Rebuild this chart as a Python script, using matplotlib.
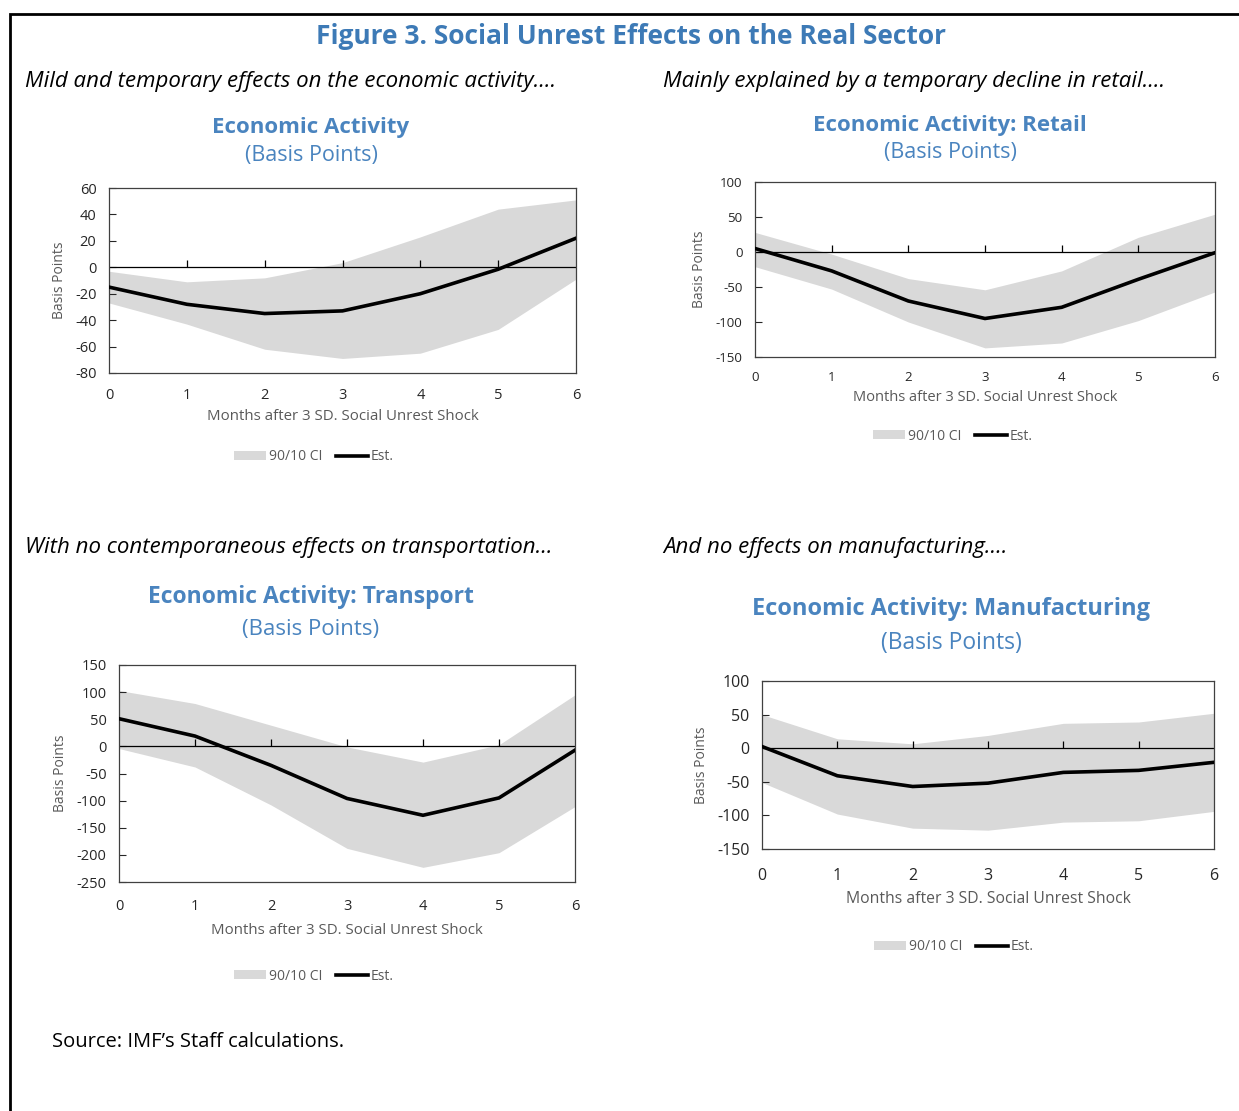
import matplotlib.pyplot as plt
from matplotlib.patches import Rectangle

W, H = 1239, 1111

plt.rcParams['font.family'] = ['Open Sans', 'DejaVu Sans']
plt.rcParams['axes.unicode_minus'] = False

# months after the shock
months = [0, 1, 2, 3, 4, 5, 6]

# Economic activity
act_est = [-15, -28, -35, -33, -20, -1.5, 22]
act_hi = [-3, -11, -8, 3.5, 23, 44, 51]
act_lo = [-27, -43, -62, -69, -65, -47, -9]

# Retail
ret_est = [5, -27, -70, -95, -79, -39, -1]
ret_hi = [28, -3, -38, -54, -27, 21, 54]
ret_lo = [-21, -53, -100, -137, -130, -98, -57]

# Transport
tra_est = [51, 19, -35, -96, -127, -95, -7]
tra_hi = [103, 79, 39, -1, -29, 3, 95]
tra_lo = [-4, -38, -108, -188, -223, -196, -111]

# Manufacturing
man_est = [2.5, -41, -57, -52, -36, -33, -21]
man_hi = [50, 14, 6.5, 19, 37, 39, 52]
man_lo = [-51, -98, -119, -122, -110, -108, -94]

blue = '#3d7ab6'
pblue = '#4a84bf'
band = '#d9d9d9'
grey = '#595959'

fig = plt.figure(figsize=(W / 100, H / 100), dpi=100)


def fx(px):
    return px / W


def fy(py):
    return 1 - py / H


def panel(box, est, hi, lo, ylim, yticks, title, tsize, subsize, title_y, sub_y,
          xlab_y, leg_y, fs=10.5, xfs=10.8, xpad=11):
    l, t, r, b = box
    ax = fig.add_axes([fx(l), fy(b), fx(r) - fx(l), fy(t) - fy(b)])
    ax.fill_between(months, lo, hi, color=band, lw=0, label='90/10 CI', zorder=1)
    ax.plot(months, est, color='black', lw=2.6, label='Est.', zorder=4,
            solid_joinstyle='miter')
    ax.axhline(0, color='black', lw=0.9, zorder=2)
    ax.set_xlim(0, 6)
    ax.set_ylim(*ylim)
    ax.set_yticks(yticks)
    ax.set_xticks(months)
    ax.tick_params(axis='x', length=0, pad=xpad, labelsize=fs, colors='#262626')
    ax.tick_params(axis='y', direction='in', length=5, width=0.8, pad=9,
                   labelsize=fs, colors='#262626')
    for s in ax.spines.values():
        s.set_color('#404040')
        s.set_linewidth(0.9)
    ax.set_ylabel('Basis Points', color=grey, fontsize=10, labelpad=6)

    # tick marks sitting on the zero line
    zero = (0 - ylim[0]) / (ylim[1] - ylim[0])
    sec = ax.secondary_xaxis(zero)
    sec.set_zorder(3)
    sec.set_xticks(months[1:-1])
    sec.tick_params(axis='x', top=True, bottom=False, direction='out', length=5,
                    width=0.9, color='black', labeltop=False, labelbottom=False)
    for s in sec.spines.values():
        s.set_visible(False)

    cx = (l + r) / 2
    fig.text(fx(cx), fy(xlab_y), 'Months after 3 SD. Social Unrest Shock',
             ha='center', va='center', color=grey, fontsize=xfs)
    ttl_x = fx(title[2])
    fig.text(ttl_x, fy(title_y), title[0], ha='center', va='center',
             color=pblue, fontsize=tsize, fontweight='bold')
    fig.text(ttl_x, fy(sub_y), '(Basis Points)', ha='center', va='center',
             color=pblue, fontsize=subsize)
    ax.legend(loc='center', bbox_to_anchor=(fx(title[1]), fy(leg_y)),
              bbox_transform=fig.transFigure, ncol=2, frameon=False,
              fontsize=10, handlelength=2.3, handleheight=0.55,
              handletextpad=0.2, columnspacing=1.0, labelcolor=grey)
    return ax


panel((109, 188, 576, 373), act_est, act_hi, act_lo, (-80, 60),
      range(-80, 61, 20), ('Economic Activity', 314, 311), 16, 15.5,
      127, 156, 416, 457)
panel((755, 182, 1215, 357), ret_est, ret_hi, ret_lo, (-150, 100),
      range(-150, 101, 50), ('Economic Activity: Retail', 953, 950), 16, 15.5,
      125, 152, 398, 436, fs=9.5, xfs=10.5, xpad=10)
panel((119, 665, 575, 882), tra_est, tra_hi, tra_lo, (-250, 150),
      range(-250, 151, 50), ('Economic Activity: Transport', 314, 311), 16.5, 16,
      597, 629, 930, 976, xpad=12)
panel((762, 681, 1214, 849), man_est, man_hi, man_lo, (-150, 100),
      range(-150, 101, 50), ('Economic Activity: Manufacturing', 954, 951), 17, 16.5,
      609, 643, 899, 947, fs=11.5, xfs=11.3, xpad=14)

# headings
fig.text(fx(631), fy(37), 'Figure 3. Social Unrest Effects on the Real Sector',
         ha='center', va='center', color=blue, fontsize=19, fontweight='bold')
fig.text(fx(25), fy(81), 'Mild and temporary effects on the economic activity....',
         ha='left', va='center', fontsize=16, style='italic')
fig.text(fx(663), fy(81), 'Mainly explained by a temporary decline in retail....',
         ha='left', va='center', fontsize=16, style='italic')
fig.text(fx(25), fy(547), 'With no contemporaneous effects on transportation...',
         ha='left', va='center', fontsize=16, style='italic')
fig.text(fx(663), fy(547), 'And no effects on manufacturing....',
         ha='left', va='center', fontsize=16, style='italic')
fig.text(fx(52), fy(1042), 'Source: IMF\u2019s Staff calculations.',
         ha='left', va='center', fontsize=14.5)

# outer frame
fig.add_artist(Rectangle((fx(10), fy(1115)), fx(1250) - fx(10), fy(14) - fy(1115),
                         transform=fig.transFigure, fill=False, edgecolor='black',
                         lw=2, clip_on=False))

fig.savefig('out.png', dpi=100)
